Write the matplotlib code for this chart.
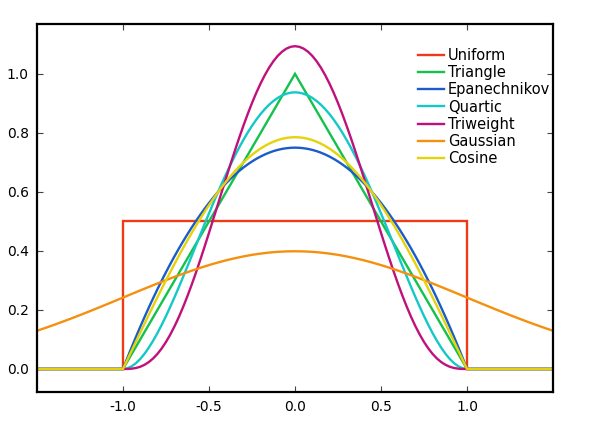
import numpy as np
import matplotlib
matplotlib.use("Agg")
import matplotlib.pyplot as plt

# Sample positions (right half, mirrored for symmetric kernels)
x_half = [0.0, 0.025, 0.05, 0.075, 0.1, 0.125, 0.15, 0.175, 0.2, 0.225,
          0.25, 0.275, 0.3, 0.325, 0.35, 0.375, 0.4, 0.425, 0.45, 0.475,
          0.5, 0.525, 0.55, 0.575, 0.6, 0.625, 0.65, 0.675, 0.7, 0.725,
          0.75, 0.775, 0.8, 0.825, 0.85, 0.875, 0.9, 0.925, 0.95, 0.975, 1.0]
epan_half = [0.75, 0.7495, 0.7481, 0.7458, 0.7425, 0.7383, 0.7331, 0.7270, 0.72, 0.7120,
             0.7031, 0.6933, 0.6825, 0.6708, 0.6581, 0.6445, 0.63, 0.6145, 0.5981, 0.5808,
             0.5625, 0.5433, 0.5231, 0.5020, 0.48, 0.4570, 0.4331, 0.4083, 0.3825, 0.3558,
             0.3281, 0.2995, 0.27, 0.2395, 0.2081, 0.1758, 0.1425, 0.1083, 0.0731, 0.0370, 0.0]
quartic_half = [0.9375, 0.9363, 0.9328, 0.9270, 0.9188, 0.9084, 0.8958, 0.8810, 0.864, 0.8450,
                0.824, 0.8011, 0.7763, 0.7499, 0.7219, 0.6924, 0.6615, 0.6294, 0.5963, 0.5622,
                0.5273, 0.4919, 0.4561, 0.4201, 0.384, 0.3481, 0.3127, 0.2778, 0.2438, 0.2110,
                0.1794, 0.1495, 0.1215, 0.0956, 0.0722, 0.0515, 0.0338, 0.0195, 0.0089, 0.0023, 0.0]
triweight_half = [1.0938, 1.0917, 1.0856, 1.0754, 1.0613, 1.0433, 1.0216, 0.9963, 0.9677, 0.9359,
                  0.9012, 0.8639, 0.8242, 0.7825, 0.7390, 0.6942, 0.6483, 0.6017, 0.5548, 0.5079,
                  0.4614, 0.4157, 0.3712, 0.3280, 0.2867, 0.2475, 0.2107, 0.1764, 0.1451, 0.1168,
                  0.0916, 0.0697, 0.0510, 0.0356, 0.0234, 0.0141, 0.0075, 0.0033, 0.0010, 0.0001, 0.0]
cosine_half = [0.7854, 0.7848, 0.7830, 0.7800, 0.7757, 0.7703, 0.7637, 0.7559, 0.7470, 0.7369,
               0.7256, 0.7133, 0.6998, 0.6853, 0.6697, 0.6530, 0.6354, 0.6168, 0.5972, 0.5767,
               0.5554, 0.5331, 0.5101, 0.4862, 0.4616, 0.4363, 0.4104, 0.3838, 0.3566, 0.3288,
               0.3006, 0.2718, 0.2427, 0.2132, 0.1834, 0.1532, 0.1229, 0.0923, 0.0616, 0.0308, 0.0]
gauss_x_half = [0.0, 0.05, 0.1, 0.15, 0.2, 0.25, 0.3, 0.35, 0.4, 0.45, 0.5,
                0.55, 0.6, 0.65, 0.7, 0.75, 0.8, 0.85, 0.9, 0.95, 1.0,
                1.05, 1.1, 1.15, 1.2, 1.25, 1.3, 1.35, 1.4, 1.45, 1.5]
gauss_half = [0.3989, 0.3984, 0.3970, 0.3945, 0.3910, 0.3867, 0.3814, 0.3752, 0.3683, 0.3605, 0.3521,
              0.3429, 0.3332, 0.3230, 0.3123, 0.3011, 0.2897, 0.2780, 0.2661, 0.2541, 0.2420,
              0.2299, 0.2179, 0.2059, 0.1942, 0.1826, 0.1714, 0.1604, 0.1497, 0.1394, 0.1295]
uniform_x = [-1.5, -1.0, -1.0, 1.0, 1.0, 1.5]
uniform_y = [0.0, 0.0, 0.5, 0.5, 0.0, 0.0]
triangle_x = [-1.5, -1.0, 0.0, 1.0, 1.5]
triangle_y = [0.0, 0.0, 1.0, 0.0, 0.0]

labels = ["Uniform", "Triangle", "Epanechnikov", "Quartic", "Triweight", "Gaussian", "Cosine"]
colors = ["#ee3a16", "#14c14a", "#1a5cc8", "#14c8c8", "#c0107c", "#f5900f", "#e6d20a"]
x_ticks = [-1.0, -0.5, 0.0, 0.5, 1.0]
y_ticks = [0.0, 0.2, 0.4, 0.6, 0.8, 1.0]


def mirror(xh, yh, pad=True):
    xh = np.asarray(xh); yh = np.asarray(yh)
    xs = np.concatenate([-xh[::-1], xh[1:]])
    ys = np.concatenate([yh[::-1], yh[1:]])
    if pad:
        xs = np.concatenate([[-1.5], xs, [1.5]])
        ys = np.concatenate([[0.0], ys, [0.0]])
    return xs, ys


series = [
    (uniform_x, uniform_y),
    (triangle_x, triangle_y),
    mirror(x_half, epan_half),
    mirror(x_half, quartic_half),
    mirror(x_half, triweight_half),
    mirror(gauss_x_half, gauss_half, pad=False),
    mirror(x_half, cosine_half),
]

fig = plt.figure(figsize=(5.9, 4.25), dpi=100)
ax = fig.add_axes([37 / 590, 1 - 392 / 425, (553 - 37) / 590, (392 - 24) / 425])

for (xs, ys), lab, c in zip(series, labels, colors):
    ax.plot(xs, ys, color=c, lw=1.7, label=lab, solid_joinstyle="miter")

ax.set_xlim(-1.5, 1.5)
ax.set_ylim(-0.078, 1.169)
ax.set_xticks(x_ticks)
ax.set_xticklabels([f"{v:.1f}" for v in x_ticks])
ax.set_yticks(y_ticks)
ax.set_yticklabels([f"{v:.1f}" for v in y_ticks])
ax.tick_params(direction="in", length=4, width=0.8, color="#444444",
               top=True, right=True, labelsize=10, pad=6)
for s in ax.spines.values():
    s.set_linewidth(1.6)

ax.legend(loc="upper left", bbox_to_anchor=((418 - 37) / 516, (392 - 48) / 368),
          frameon=False, fontsize=10.5, borderpad=0, borderaxespad=0,
          labelspacing=0.15, handlelength=1.75, handletextpad=0.3)

fig.savefig("out.png", dpi=100)
